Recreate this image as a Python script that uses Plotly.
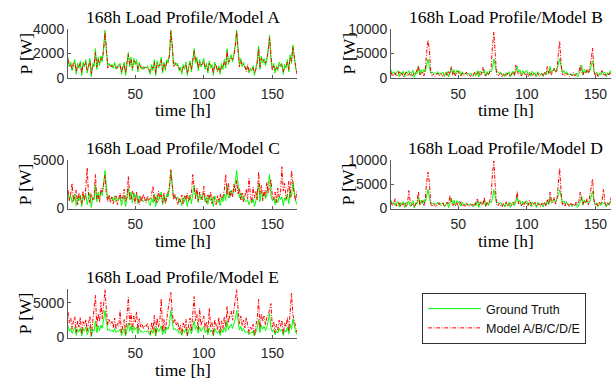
import plotly.graph_objects as go

hours = list(range(1, 169))

ground_truth = [
    1700, 900, 1300, 600, 1100, 1500, 300, 1200, 800, 1400,
    200, 1300, 900, 1500, 400, 1000, 1600, 100, 1200, 900,
    2400, 700, 1700, 1000, 1800, 1300, 2600, 3900, 2200, 1000,
    1200, 900, 1100, 800, 1300, 700, 1000, 900, 1200, 300,
    800, 1300, 200, 1500, 2100, 900, 1700, 600, 1600, 1100,
    1500, 500, 1300, 800, 900, 700, 900, 800, 1000, 600,
    300, 1100, 600, 1500, 200, 1400, 800, 1200, 1700, 400,
    1300, 600, 1500, 1200, 2000, 3900, 2600, 1100, 1300, 1000,
    1200, 600, 900, 300, 1100, 700, 1300, 200, 1000, 1400,
    500, 1800, 2400, 1200, 1700, 600, 1500, 900, 1300, 1600,
    700, 1200, 400, 1400, 800, 1100, 200, 1300, 900, 600,
    1000, 300, 1200, 700, 1500, 800, 2400, 1100, 1600, 1900,
    1300, 2000, 2700, 3900, 2100, 1100, 1600, 900, 1300, 800,
    700, 900, 400, 800, 600, 1000, 200, 900, 1400, 2600,
    700, 1800, 1200, 1600, 1000, 1400, 2300, 3500, 1400, 800,
    1200, 400, 1000, 600, 1300, 900, 1200, 300, 1100, 800,
    1500, 500, 1900, 1200, 2700, 1700, 800, 400,
]

model_a = [
    1500, 1000, 1100, 700, 1300, 1200, 500, 1000, 900, 1200,
    400, 1100, 1000, 1300, 600, 900, 1400, 300, 1000, 1100,
    2100, 900, 1500, 1200, 1600, 1500, 2300, 3700, 2400, 800,
    1000, 1100, 900, 1000, 1100, 900, 800, 1100, 1000, 500,
    1000, 1100, 400, 1300, 1900, 1100, 1500, 800, 1400, 1300,
    1300, 700, 1100, 1000, 700, 900, 800, 900, 800, 700,
    500, 900, 800, 1300, 400, 1200, 1000, 1000, 1500, 600,
    1100, 800, 1300, 1400, 1800, 3800, 2800, 900, 1100, 1200,
    1000, 800, 700, 500, 900, 900, 1100, 400, 800, 1200,
    700, 1600, 2200, 1400, 1500, 800, 1300, 1100, 1100, 1400,
    900, 1000, 600, 1200, 1000, 900, 400, 1100, 1100, 500,
    800, 500, 1000, 900, 1300, 1000, 2200, 1300, 1400, 1700,
    1500, 1800, 2500, 3800, 2300, 900, 1400, 1100, 1100, 1000,
    500, 1100, 600, 600, 800, 800, 400, 700, 1200, 2400,
    900, 1600, 1400, 1400, 1200, 1600, 2100, 3300, 1600, 600,
    1000, 600, 800, 800, 1100, 1100, 1000, 500, 900, 1000,
    1300, 700, 1700, 1400, 2500, 1500, 1000, 300,
]

model_b = [
    1200, 400, 900, 1100, 300, 800, 1300, 500, 1000, 200,
    700, 1200, 400, 900, 1100, 300, 600, 1000, 800, 1600,
    2500, 600, 900, 1300, 400, 1800, 5200, 7700, 5800, 1200,
    500, 800, 300, 700, 1000, 400, 900, 600, 300, 800,
    1100, 400, 1300, 800, 2300, 600, 1200, 400, 900, 1400,
    700, 300, 1000, 500, 800, 1200, 400, 700, 300, 900,
    600, 1100, 400, 800, 1300, 500, 900, 2200, 700, 400,
    1000, 600, 1400, 1900, 6500, 9400, 5000, 800, 400, 700,
    1100, 300, 600, 900, 400, 1000, 700, 300, 800, 1200,
    500, 2600, 1400, 800, 1100, 400, 900, 1300, 600, 1000,
    300, 800, 1100, 500, 900, 400, 700, 1000, 300, 600,
    900, 400, 1200, 700, 2400, 1000, 1700, 600, 1300, 2000,
    1100, 1500, 4800, 7500, 3000, 600, 900, 400, 1000, 700,
    300, 800, 500, 1100, 400, 700, 900, 1300, 2600, 1100,
    600, 1400, 900, 1700, 1000, 2400, 3800, 6100, 1400, 400,
    900, 300, 700, 1100, 1500, 500, 800, 400, 1000, 600,
    1200, 400, 900, 1300, 700, 500, 1000, 300,
]

model_c = [
    1900, 800, 1500, 2600, 700, 1200, 1900, 400, 1600, 1100,
    500, 1800, 800, 2200, 4200, 1300, 600, 1500, 900, 1200,
    3500, 1000, 1400, 600, 2100, 1700, 2600, 3400, 1500, 700,
    1400, 600, 1200, 500, 1000, 1300, 400, 1100, 1600, 800,
    1200, 2000, 700, 1100, 3300, 1200, 900, 1800, 1300, 500,
    1700, 900, 400, 1300, 700, 1500, 1100, 600, 1300, 900,
    1000, 1500, 2300, 700, 1200, 600, 1800, 1000, 1400, 600,
    1600, 500, 1100, 1700, 2300, 4000, 2100, 900, 1500, 800,
    400, 1100, 700, 1400, 500, 1300, 900, 1600, 700, 1100,
    1500, 3500, 1800, 1000, 2100, 800, 1700, 1200, 900, 2300,
    1000, 600, 1400, 900, 1700, 500, 1200, 800, 400, 1300,
    700, 1500, 900, 1200, 1900, 3500, 1400, 2600, 1100, 1800,
    1200, 2500, 1700, 2900, 1500, 2100, 900, 1600, 700, 1300,
    2000, 1000, 3100, 1400, 600, 2200, 1100, 1800, 900, 3800,
    1500, 2400, 800, 1900, 1200, 2700, 1600, 2400, 3000, 1300,
    900, 1700, 600, 2100, 1200, 1500, 4300, 1800, 2600, 1000,
    1400, 2800, 1100, 3900, 2400, 1500, 800, 1900,
]

model_d = [
    1400, 600, 1100, 2000, 500, 900, 1300, 300, 1000, 700,
    1200, 400, 900, 3700, 1500, 600, 1000, 300, 800, 1400,
    3500, 700, 1100, 1600, 500, 2000, 5400, 7500, 5200, 900,
    400, 1000, 600, 300, 900, 1200, 500, 800, 1100, 400,
    700, 1300, 900, 2700, 1500, 500, 1000, 600, 1200, 300,
    900, 1400, 500, 800, 300, 1100, 700, 400, 900, 600,
    1000, 500, 1300, 2100, 600, 900, 1400, 700, 2300, 500,
    1200, 800, 1500, 2400, 7200, 9800, 4800, 900, 500, 1100,
    700, 300, 1000, 600, 1400, 400, 800, 1100, 500, 900,
    1300, 1600, 3500, 900, 1200, 600, 1000, 400, 1500, 800,
    600, 1700, 1100, 400, 900, 1300, 500, 800, 1000, 300,
    1100, 700, 1300, 500, 1800, 900, 3400, 1600, 1200, 2300,
    900, 1800, 5200, 8300, 3500, 700, 1100, 500, 1400, 800,
    400, 1200, 700, 1000, 500, 1300, 800, 1500, 3400, 1900,
    800, 1600, 1100, 2000, 700, 2700, 4200, 6100, 1900, 600,
    1000, 400, 1300, 900, 1800, 4000, 1100, 500, 1200, 700,
    1500, 2800, 1000, 700, 1300, 900, 600, 1100,
]

model_e = [
    3700, 2100, 2800, 1200, 2500, 3000, 700, 2400, 1500, 2900,
    500, 2300, 1700, 2600, 900, 2000, 3100, 300, 2400, 3600,
    6100, 1600, 3400, 2300, 5100, 2700, 4500, 6900, 4000, 1800,
    2600, 1900, 2300, 1400, 2800, 1200, 2000, 1600, 3900, 600,
    1700, 2600, 500, 3200, 5800, 1800, 3500, 1200, 3100, 2200,
    3700, 1000, 2700, 1500, 2000, 1300, 1800, 1600, 2100, 900,
    500, 2200, 1100, 3200, 400, 2800, 1500, 2500, 5600, 900,
    2600, 1100, 3000, 4100, 5200, 6500, 3600, 2100, 2700, 1800,
    2300, 1000, 1800, 500, 2100, 1300, 2600, 300, 1900, 2800,
    900, 3600, 5900, 2400, 3300, 1100, 4200, 1700, 2500, 3100,
    1300, 2300, 700, 4200, 1500, 2200, 300, 2600, 1800, 1100,
    2900, 600, 2400, 1300, 3000, 1500, 4500, 2100, 3200, 3800,
    2500, 4000, 5300, 6900, 4200, 2000, 3100, 1700, 2500, 1400,
    2900, 1700, 700, 1500, 1100, 1900, 300, 1700, 2700, 5500,
    1300, 3400, 2300, 3100, 1800, 2900, 3300, 4000, 4900, 1500,
    2300, 700, 1900, 1100, 2500, 1600, 2500, 500, 2100, 1500,
    2900, 900, 3700, 6400, 3300, 2300, 1500, 700,
]

panel_names = ["A", "B", "C", "D", "E"]
panel_models = [model_a, model_b, model_c, model_d, model_e]
panel_ymax = [4000, 10000, 5000, 10000, 7000]
panel_yticks = [[0, 2000, 4000], [0, 5000, 10000], [0, 5000], [0, 5000, 10000], [0, 5000]]
x_ticks = [50, 100, 150]

W, H = 611, 381
# pixel boxes of the axes; right column is clipped by the figure edge
col_px = [(68, 297), (391, 620)]
row_px = [(29, 78), (160, 208.5), (289, 337.5)]
px_per_hour = (297 - 68) / 167.0

SERIF = "Liberation Serif"
SANS = "Liberation Sans"
AXC = "#5a5a5a"

fig = go.Figure()
annotations = []
layout_axes = {}

for i, name in enumerate(panel_names):
    r, c = divmod(i, 2)
    l, rr = col_px[c]
    t, b = row_px[r]
    n = i + 1
    xa = "x" if n == 1 else f"x{n}"
    ya = "y" if n == 1 else f"y{n}"
    x_right = min(rr, W)
    x_max = 1 + (x_right - l) / px_per_hour
    fig.add_trace(go.Scatter(
        x=hours, y=ground_truth, mode="lines", name="Ground Truth",
        line=dict(color="#00ff00", width=1), xaxis=xa, yaxis=ya,
        showlegend=(i == 0), hoverinfo="skip"))
    fig.add_trace(go.Scatter(
        x=hours, y=panel_models[i], mode="lines", name="Model A/B/C/D/E",
        line=dict(color="#ff0000", width=1, dash="4px,1.5px,1px,1.5px"), xaxis=xa, yaxis=ya,
        showlegend=(i == 0), hoverinfo="skip"))
    common = dict(showline=True, linecolor=AXC, linewidth=1, ticks="inside", ticklen=3,
                  tickcolor=AXC, showgrid=False, zeroline=False, mirror=False,
                  automargin=False,
                  tickfont=dict(family=SANS, size=14, color="#262626"))
    layout_axes["xaxis" if n == 1 else f"xaxis{n}"] = dict(
        common, domain=[l / W, x_right / W], range=[1, x_max], anchor=ya,
        tickvals=x_ticks, ticklabelstandoff=3)
    layout_axes["yaxis" if n == 1 else f"yaxis{n}"] = dict(
        common, domain=[1 - b / H, 1 - t / H], range=[0, panel_ymax[i]], anchor=xa,
        tickvals=panel_yticks[i], tickformat="d", ticklabelstandoff=0)
    cx = (l + rr) / 2
    annotations.append(dict(text=f"168h Load Profile/Model {name}", x=cx / W, y=1 - (t - 12.5) / H,
                            xref="paper", yref="paper", xanchor="center", yanchor="middle",
                            showarrow=False, font=dict(family=SERIF, size=17.5, color="#000")))
    annotations.append(dict(text="time [h]", x=cx / W, y=1 - (b + 32) / H,
                            xref="paper", yref="paper", xanchor="center", yanchor="middle",
                            showarrow=False, font=dict(family=SERIF, size=17.5, color="#000")))
    annotations.append(dict(text="P [W]", x=(l - 43) / W, y=1 - ((t + b) / 2) / H,
                            xref="paper", yref="paper", xanchor="center", yanchor="middle",
                            textangle=-90, showarrow=False,
                            font=dict(family=SERIF, size=17.5, color="#000")))

fig.update_layout(
    width=W, height=H, margin=dict(l=0, r=0, t=0, b=0, pad=0, autoexpand=False),
    paper_bgcolor="white", plot_bgcolor="white",
    annotations=annotations,
    showlegend=True, hovermode=False,
    legend=dict(x=422 / W, y=1 - 293 / H, xanchor="left", yanchor="top",
                bgcolor="white", bordercolor="#333333", borderwidth=1,
                font=dict(family=SANS, size=12.5, color="#111"),
                itemwidth=53, tracegroupgap=0),
    **layout_axes,
)

fig.write_html("out.html", config={"displayModeBar": False},
               post_script="document.body.style.margin='0';")
